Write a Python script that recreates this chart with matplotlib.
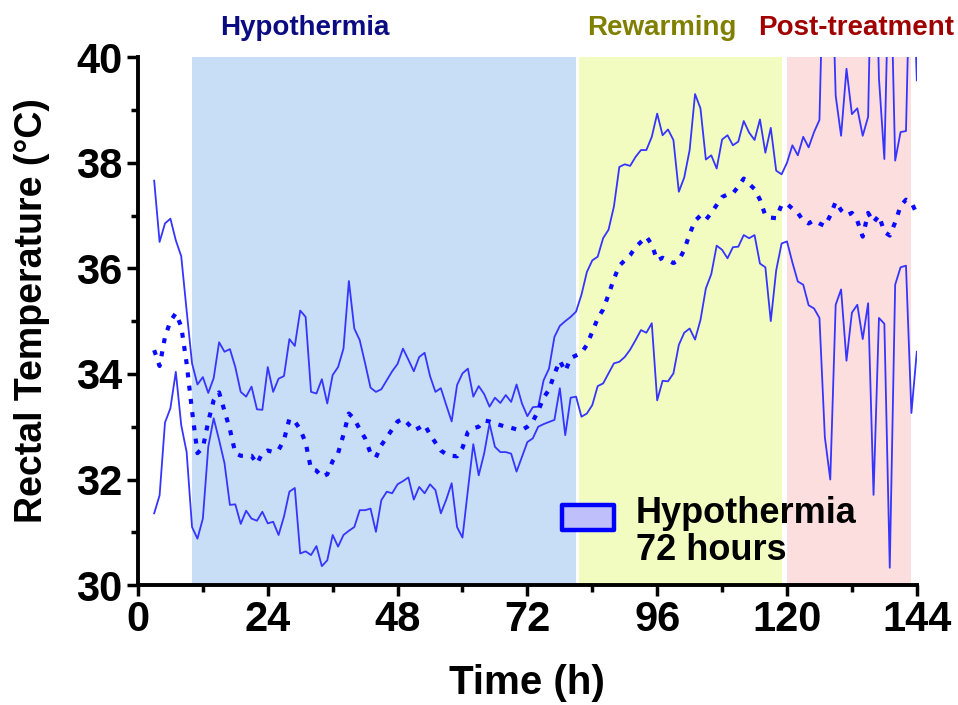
import matplotlib.pyplot as plt
from matplotlib.patches import Rectangle
from matplotlib.ticker import MultipleLocator

plt.rcParams["font.family"] = ["Liberation Sans", "DejaVu Sans"]
plt.rcParams["font.weight"] = "bold"

# hourly readings, 3 h to 144 h
hours = list(range(3, 145))

upper = [
    37.66, 36.50, 36.85, 36.94, 36.53, 36.23, 35.20, 34.20, 33.80, 33.94,
    33.64, 33.92, 34.60, 34.42, 34.47, 34.13, 33.66, 33.57, 33.76, 33.33,
    33.32, 34.13, 33.66, 33.91, 33.96, 34.66, 34.53, 35.20, 35.08, 33.66,
    33.63, 33.90, 33.44, 33.98, 34.13, 34.48, 35.76, 34.86, 34.64, 34.20,
    33.74, 33.66, 33.71, 33.88, 34.05, 34.19, 34.48, 34.27, 34.05, 34.32,
    34.40, 33.96, 33.66, 33.73, 33.41, 33.10, 33.79, 34.01, 34.10, 33.57,
    33.77, 33.62, 33.38, 33.55, 33.45, 33.60, 33.47, 33.80, 33.44, 33.20,
    33.37, 33.38, 33.88, 34.10, 34.70, 34.91, 35.00, 35.08, 35.18, 35.50,
    35.93, 36.15, 36.22, 36.57, 36.73, 37.17, 37.92, 37.97, 37.94, 38.11,
    38.24, 38.24, 38.49, 38.93, 38.52, 38.63, 38.43, 37.45, 37.72, 38.24,
    39.30, 39.03, 38.06, 38.14, 37.89, 38.44, 38.52, 38.33, 38.40, 38.79,
    38.57, 38.43, 38.82, 38.19, 38.66, 37.85, 37.78, 38.00, 38.33, 38.14,
    38.49, 38.29, 38.58, 38.81, 43.00, 43.00, 39.27, 38.51, 39.78, 38.92,
    39.03, 38.51, 38.87, 44.00, 39.60, 38.07, 42.50, 38.04, 38.58, 38.60,
    43.00, 39.56,
]

mean = [
    34.45, 34.15, 34.70, 35.00, 35.15, 34.90, 34.20, 33.30, 32.50, 32.60,
    33.10, 33.50, 33.65, 33.30, 32.95, 32.50, 32.45, 32.45, 32.45, 32.30,
    32.50, 32.55, 32.52, 32.56, 32.75, 33.15, 33.10, 32.95, 32.70, 32.20,
    32.17, 32.05, 32.10, 32.35, 32.50, 32.85, 33.25, 33.15, 32.95, 32.78,
    32.50, 32.42, 32.65, 32.80, 32.95, 33.10, 33.15, 33.05, 32.93, 32.98,
    33.04, 32.85, 32.70, 32.55, 32.48, 32.45, 32.44, 32.60, 32.90, 32.97,
    33.00, 33.12, 33.10, 33.06, 33.03, 33.00, 32.98, 32.95, 32.94, 33.00,
    33.10, 33.30, 33.55, 33.70, 34.00, 34.25, 34.05, 34.30, 34.35, 34.40,
    34.55, 34.80, 35.05, 35.22, 35.50, 35.80, 36.05, 36.15, 36.25, 36.40,
    36.50, 36.60, 36.45, 36.15, 36.20, 36.15, 36.10, 36.15, 36.35, 36.65,
    36.90, 37.00, 36.92, 37.05, 37.20, 37.35, 37.40, 37.42, 37.55, 37.70,
    37.60, 37.50, 37.30, 37.00, 36.96, 36.95, 37.20, 37.22, 37.13, 37.05,
    36.90, 36.85, 36.91, 36.85, 36.80, 37.00, 37.26, 37.10, 37.00, 37.05,
    36.90, 36.60, 37.05, 36.87, 37.00, 36.69, 36.62, 36.87, 37.18, 37.30,
    37.25, 37.03,
]

lower = [
    31.36, 31.70, 33.08, 33.35, 34.04, 33.03, 32.52, 31.10, 30.88, 31.26,
    32.62, 33.16, 32.75, 32.31, 31.52, 31.53, 31.16, 31.41, 31.26, 31.22,
    31.39, 31.17, 31.20, 30.95, 31.30, 31.77, 31.84, 30.60, 30.64, 30.57,
    30.74, 30.36, 30.47, 30.95, 30.73, 30.95, 31.03, 31.10, 31.42, 31.42,
    31.45, 31.01, 31.61, 31.77, 31.74, 31.91, 31.97, 32.04, 31.62, 31.86,
    31.74, 31.91, 31.80, 31.36, 31.62, 31.93, 31.10, 30.90, 31.80, 32.67,
    32.08, 32.49, 33.06, 32.62, 32.52, 32.52, 32.49, 32.15, 32.43, 32.71,
    32.78, 33.00, 33.05, 33.09, 33.13, 33.73, 32.84, 33.55, 33.57, 33.19,
    33.25, 33.41, 33.77, 33.82, 34.01, 34.20, 34.23, 34.32, 34.46, 34.64,
    34.83, 34.78, 34.96, 33.50, 33.87, 33.86, 34.01, 34.55, 34.78, 34.86,
    34.65, 35.02, 35.62, 35.89, 36.43, 36.35, 36.19, 36.40, 36.41, 36.63,
    36.57, 36.63, 36.09, 36.02, 35.00, 35.96, 36.47, 36.51, 36.11, 35.75,
    35.69, 35.30, 35.24, 35.06, 32.80, 32.00, 35.31, 35.60, 34.25, 35.16,
    35.31, 34.66, 35.34, 31.71, 35.06, 34.95, 30.33, 35.69, 36.02, 36.05,
    33.26, 34.42,
]

# treatment phases: shaded span (h) and where the heading sits (h)
phase_names = ["Hypothermia", "Rewarming", "Post-treatment"]
phase_start = [10, 81.5, 120]
phase_end = [81, 119, 143]
phase_label_x = [30.8, 96.9, 132.7]
phase_fill = ["#c8ddf6", "#f3fcc0", "#fddede"]
phase_text = ["#0c0c82", "#808000", "#a00000"]


def main():
    fig = plt.figure(figsize=(9.58, 7.05), dpi=100)
    ax = fig.add_axes([0.144, 0.170, 0.813, 0.749])

    for name, x0, x1, lx, fc, tc in zip(phase_names, phase_start, phase_end,
                                        phase_label_x, phase_fill, phase_text):
        ax.axvspan(x0, x1, color=fc, lw=0, zorder=0)
        ax.text(lx, 40.55, name, color=tc, fontsize=20, fontweight="bold",
                ha="center", va="center", clip_on=False)

    line_kw = dict(color="#3535ff", lw=1.3, zorder=3)
    ax.plot(hours, upper, **line_kw)
    ax.plot(hours, lower, **line_kw)
    ax.plot(hours, mean, color="#0a0aff", lw=3.0, linestyle=(0, (1.2, 2.0)),
            dash_capstyle="butt", zorder=4)

    ax.set_xlim(0, 144)
    ax.set_ylim(30, 40)
    ax.xaxis.set_major_locator(MultipleLocator(24))
    ax.xaxis.set_minor_locator(MultipleLocator(12))
    ax.yaxis.set_major_locator(MultipleLocator(2))
    ax.yaxis.set_minor_locator(MultipleLocator(1))

    for side in ["top", "right"]:
        ax.spines[side].set_visible(False)
    for side in ["left", "bottom"]:
        ax.spines[side].set_linewidth(2.8)

    ax.tick_params(which="major", length=8, width=2.5, labelsize=30, pad=3)
    ax.tick_params(which="minor", length=5, width=2.5)
    for lab in ax.get_xticklabels() + ax.get_yticklabels():
        lab.set_fontweight("bold")

    ax.set_xlabel("Time (h)", fontsize=29, fontweight="bold", labelpad=17)
    ax.set_ylabel("Rectal Temperature (\u00b0C)", fontsize=27,
                  fontweight="bold")
    ax.yaxis.set_label_coords(-0.113, 0.52)

    # key box with its two-line caption
    ax.add_patch(Rectangle((0.545, 0.105), 0.066, 0.046,
                           transform=ax.transAxes, facecolor="#bfbffc",
                           edgecolor="#0000ff", linewidth=3.2,
                           joinstyle="round", zorder=5))
    ax.text(0.639, 0.168, "Hypothermia\n72 hours", transform=ax.transAxes,
            fontsize=26, fontweight="bold", ha="left", va="top",
            linespacing=1.05, zorder=5)

    fig.savefig("out.png", dpi=100)


if __name__ == "__main__":
    main()
